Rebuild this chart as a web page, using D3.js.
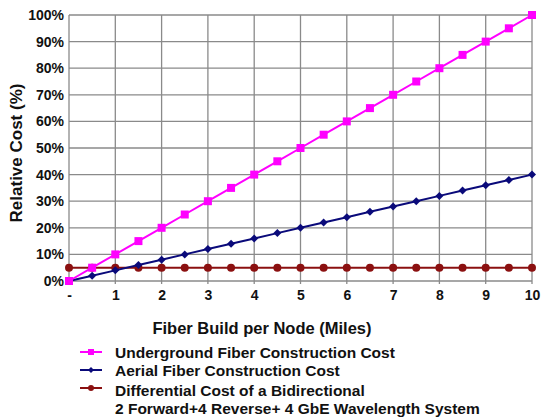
<!DOCTYPE html>
<html><head><meta charset="utf-8">
<script src="https://cdn.jsdelivr.net/npm/d3@7"></script>
<style>body{margin:0;background:#fff}svg{display:block}text{font-family:"Liberation Sans",Arial,sans-serif;font-weight:bold;fill:#111}</style>
</head><body><svg id="c" width="542" height="419"></svg>
<script>
const miles = [0,0.5,1,1.5,2,2.5,3,3.5,4,4.5,5,5.5,6,6.5,7,7.5,8,8.5,9,9.5,10];
const underground = [0,5,10,15,20,25,30,35,40,45,50,55,60,65,70,75,80,85,90,95,100];
const aerial = [0,2,4,6,8,10,12,14,16,18,20,22,24,26,28,30,32,34,36,38,40];
const differential = [5,5,5,5,5,5,5,5,5,5,5,5,5,5,5,5,5,5,5,5,5];
const xTicks = [0,1,2,3,4,5,6,7,8,9,10];
const xTickLabels = ["-","1","2","3","4","5","6","7","8","9","10"];
const yTicks = [0,10,20,30,40,50,60,70,80,90,100];
const seriesNames = ["Underground Fiber Construction Cost","Aerial Fiber Construction Cost","Differential Cost of a Bidirectional|2 Forward+4 Reverse+ 4 GbE Wavelength System"];

const svg = d3.select("#c");
const x = d3.scaleLinear().domain([0,10]).range([69,532]);
const y = d3.scaleLinear().domain([0,100]).range([281,15]);

// grid
const g = svg.append("g");
g.selectAll(".hg").data(yTicks).join("line")
 .attr("x1",x(0)).attr("x2",x(10)).attr("y1",d=>y(d)).attr("y2",d=>y(d))
 .attr("stroke","#8a8a8a").attr("stroke-width",1.3);
g.selectAll(".vg").data(xTicks).join("line")
 .attr("x1",d=>x(d)).attr("x2",d=>x(d)).attr("y1",y(100)).attr("y2",y(0)+3)
 .attr("stroke","#8a8a8a").attr("stroke-width",1.3);

// axes labels
const yAxis = d3.axisLeft(y).tickValues(yTicks).tickFormat(d=>d+"%").tickSize(0).tickPadding(5);
const ya = svg.append("g").attr("transform",`translate(${x(0)},0)`).call(yAxis);
ya.select(".domain").remove();
ya.selectAll("text").style("font-size","14px").style("font-family","'Liberation Sans',Arial,sans-serif").style("font-weight","bold").attr("fill","#111");

const xAxis = d3.axisBottom(x).tickValues(xTicks).tickFormat((d,i)=>xTickLabels[i]).tickSize(0).tickPadding(9);
const xa = svg.append("g").attr("transform",`translate(0,${y(0)})`).call(xAxis);
xa.select(".domain").remove();
xa.selectAll("text").style("font-size","14px").style("font-family","'Liberation Sans',Arial,sans-serif").style("font-weight","bold").attr("fill","#111");

// titles
svg.append("text").attr("transform","translate(22,153) rotate(-90)").attr("text-anchor","middle")
 .style("font-size","17px").text("Relative Cost (%)");
svg.append("text").attr("x",262).attr("y",334).attr("text-anchor","middle")
 .style("font-size","16.5px").text("Fiber Build per Node (Miles)");

const series = [
 {vals:differential,color:"#8b1010",shape:"circle"},
 {vals:aerial,color:"#0a0a7a",shape:"diamond"},
 {vals:underground,color:"#ff00ff",shape:"square"}
];
const line = d3.line().x((d,i)=>x(miles[i])).y(d=>y(d));
function marker(sel,shape,color){
  if(shape==="square") sel.append("rect").attr("x",-4).attr("y",-4).attr("width",8).attr("height",8).attr("fill",color);
  else if(shape==="diamond") sel.append("path").attr("d","M0,-4L4,0L0,4L-4,0Z").attr("fill",color);
  else sel.append("circle").attr("r",4).attr("fill",color);
}
series.forEach(s=>{
  svg.append("path").datum(s.vals).attr("d",line).attr("fill","none").attr("stroke",s.color).attr("stroke-width",2);
  svg.append("g").selectAll("g").data(s.vals).join("g")
   .attr("transform",(d,i)=>`translate(${x(miles[i])},${y(d)})`)
   .each(function(){marker(d3.select(this),s.shape,s.color);});
});

// legend
const leg = [
 {name:seriesNames[0],color:"#ff00ff",shape:"square",y:352},
 {name:seriesNames[1],color:"#0a0a7a",shape:"diamond",y:370},
 {name:seriesNames[2],color:"#8b1010",shape:"circle",y:390}
];
leg.forEach(l=>{
  const lg = svg.append("g");
  const ly = l.shape==="circle" ? l.y-2 : l.y;
  lg.append("line").attr("x1",80).attr("x2",102).attr("y1",ly).attr("y2",ly).attr("stroke",l.color).attr("stroke-width",2);
  const m = lg.append("g").attr("transform",`translate(91,${ly}) scale(0.75)`);
  marker(m,l.shape,l.color);
  l.name.split("|").forEach((t,i)=>{
    lg.append("text").attr("x",115).attr("y",l.y+5.5+i*18.5).style("font-size","15.5px").text(t);
  });
});
</script></body></html>
